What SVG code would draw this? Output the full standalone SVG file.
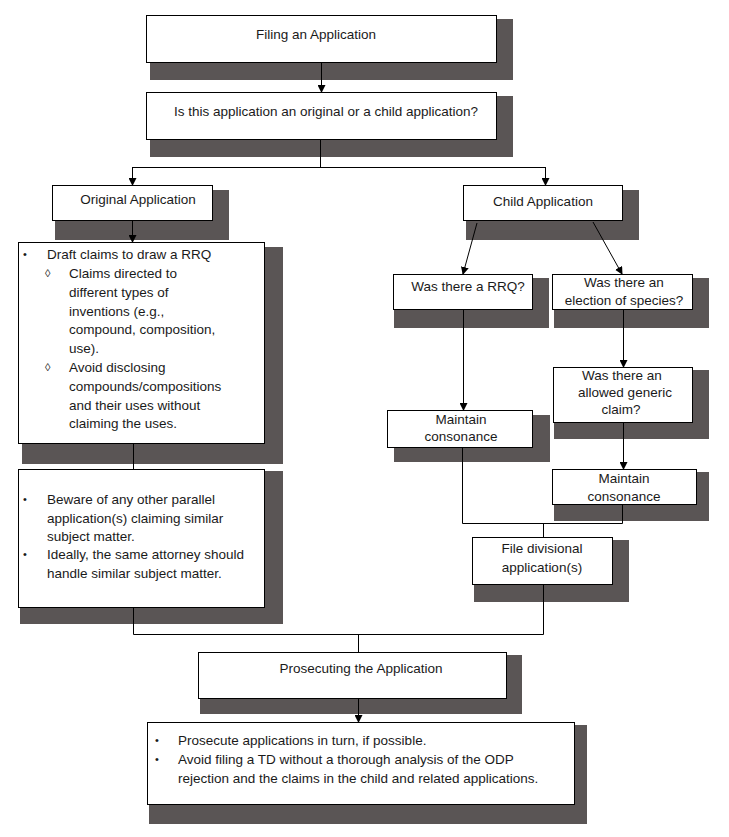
<svg xmlns="http://www.w3.org/2000/svg" width="729" height="837" viewBox="0 0 729 837">
<defs>
<style>
.sh{fill:#5a5555}
.bx{fill:#fff;stroke:#000;stroke-width:1}
text{font-family:"Liberation Sans",Arial,sans-serif;font-size:13.5px;fill:#1a1a1a}
.c{text-anchor:middle}
.b{font-size:11px}
.ln{fill:none;stroke:#000;stroke-width:1}
</style>
<marker id="ah" markerWidth="8" markerHeight="8" refX="7" refY="4" orient="auto" markerUnits="userSpaceOnUse">
<path d="M0,0 L8,4 L0,8 Z" fill="#000"/>
</marker>
</defs>
<rect width="729" height="837" fill="#fff"/>

<g id="n-filing">
<rect class="sh" x="150" y="19" width="363" height="61"/>
<rect class="bx" x="146.5" y="15.5" width="350" height="47"/>
<text class="c" x="316" y="39">Filing an Application</text>
</g>
<g id="n-question">
<rect class="sh" x="150" y="96" width="363" height="61"/>
<rect class="bx" x="146.5" y="92.5" width="350" height="47"/>
<text class="c" x="326" y="116">Is this application an original or a child application?</text>
</g>
<g id="n-original">
<rect class="sh" x="55" y="190" width="174" height="50"/>
<rect class="bx" x="52.5" y="185.5" width="160" height="35"/>
<text class="c" x="138" y="204">Original Application</text>
</g>
<g id="n-draft">
<rect class="sh" x="22" y="247" width="261" height="217"/>
<rect class="bx" x="18.5" y="242.5" width="246" height="201"/>
<text class="b" x="23" y="258">•</text><text x="47" y="259">Draft claims to draw a RRQ</text>
<text class="b" x="45" y="277">◊</text><text x="69" y="278">Claims directed to</text>
<text x="69" y="297">different types of</text>
<text x="69" y="316">inventions (e.g.,</text>
<text x="69" y="334">compound, composition,</text>
<text x="69" y="353">use).</text>
<text class="b" x="45" y="371">◊</text><text x="69" y="372">Avoid disclosing</text>
<text x="69" y="391">compounds/compositions</text>
<text x="69" y="410">and their uses without</text>
<text x="69" y="428">claiming the uses.</text>
</g>
<g id="n-beware">
<rect class="sh" x="20" y="471" width="263" height="153"/>
<rect class="bx" x="18.5" y="469.5" width="246" height="138"/>
<text class="b" x="23" y="503">•</text><text x="47" y="504">Beware of any other parallel</text>
<text x="47" y="523">application(s) claiming similar</text>
<text x="47" y="541">subject matter.</text>
<text class="b" x="23" y="558">•</text><text x="47" y="559">Ideally, the same attorney should</text>
<text x="47" y="578">handle similar subject matter.</text>
</g>
<g id="n-child">
<rect class="sh" x="466" y="190" width="173" height="50"/>
<rect class="bx" x="463.5" y="185.5" width="159" height="35"/>
<text class="c" x="543" y="206">Child Application</text>
</g>
<g id="n-rrq">
<rect class="sh" x="394" y="278" width="155" height="50"/>
<rect class="bx" x="393.5" y="274.5" width="139" height="35"/>
<text class="c" x="468" y="291">Was there a RRQ?</text>
</g>
<g id="n-election">
<rect class="sh" x="554" y="278" width="155" height="50"/>
<rect class="bx" x="552.5" y="274.5" width="140" height="35"/>
<text class="c" x="624" y="287">Was there an</text>
<text class="c" x="624" y="305">election of species?</text>
</g>
<g id="n-maintain-left">
<rect class="sh" x="394" y="415" width="156" height="47"/>
<rect class="bx" x="387.5" y="410.5" width="145" height="37"/>
<text class="c" x="461" y="424">Maintain</text>
<text class="c" x="461" y="441">consonance</text>
</g>
<g id="n-generic">
<rect class="sh" x="554" y="370" width="155" height="69"/>
<rect class="bx" x="553.5" y="367.5" width="139" height="55"/>
<text class="c" x="622" y="380">Was there an</text>
<text class="c" x="625" y="397">allowed generic</text>
<text class="c" x="621" y="414">claim?</text>
</g>
<g id="n-maintain-right">
<rect class="sh" x="554" y="472" width="155" height="49"/>
<rect class="bx" x="552.5" y="469.5" width="144" height="35"/>
<text class="c" x="624" y="483">Maintain</text>
<text class="c" x="624" y="501">consonance</text>
</g>
<g id="n-divisional">
<rect class="sh" x="474" y="540" width="155" height="62"/>
<rect class="bx" x="472.5" y="537.5" width="140" height="47"/>
<text class="c" x="542" y="553">File divisional</text>
<text class="c" x="542" y="572">application(s)</text>
</g>
<g id="n-prosecuting">
<rect class="sh" x="200" y="655" width="322" height="59"/>
<rect class="bx" x="198.5" y="652.5" width="308" height="46"/>
<text class="c" x="361" y="673">Prosecuting the Application</text>
</g>
<g id="n-prosecute-tips">
<rect class="sh" x="149" y="725" width="438" height="99"/>
<rect class="bx" x="147.5" y="722.5" width="427" height="82"/>
<text class="b" x="155" y="744">•</text><text x="178" y="745">Prosecute applications in turn, if possible.</text>
<text class="b" x="155" y="763">•</text><text x="178" y="764">Avoid filing a TD without a thorough analysis of the ODP</text>
<text x="178" y="783">rejection and the claims in the child and related applications.</text>
</g>

<g id="connectors">
<path class="ln" d="M321.5,63 V92" marker-end="url(#ah)"/>
<path class="ln" d="M320.5,140 V167.5 M132.5,167.5 H545.5"/>
<path class="ln" d="M132.5,167 V185" marker-end="url(#ah)"/>
<path class="ln" d="M545.5,167 V185" marker-end="url(#ah)"/>
<path class="ln" d="M132.5,221 V242" marker-end="url(#ah)"/>
<path class="ln" d="M133.5,444 V469"/>
<path class="ln" d="M477,223 L463,274" marker-end="url(#ah)"/>
<path class="ln" d="M593,222 L622,274" marker-end="url(#ah)"/>
<path class="ln" d="M463.5,310 V410" marker-end="url(#ah)"/>
<path class="ln" d="M623.5,310 V367" marker-end="url(#ah)"/>
<path class="ln" d="M623.5,423 V469" marker-end="url(#ah)"/>
<path class="ln" d="M462.5,448 V523.5 H622.5 V505 M543.5,523.5 V537"/>
<path class="ln" d="M133.5,608 V634.5 H543.5 V585 M358.5,634.5 V652"/>
<path class="ln" d="M358.5,699 V722" marker-end="url(#ah)"/>
</g>
</svg>
